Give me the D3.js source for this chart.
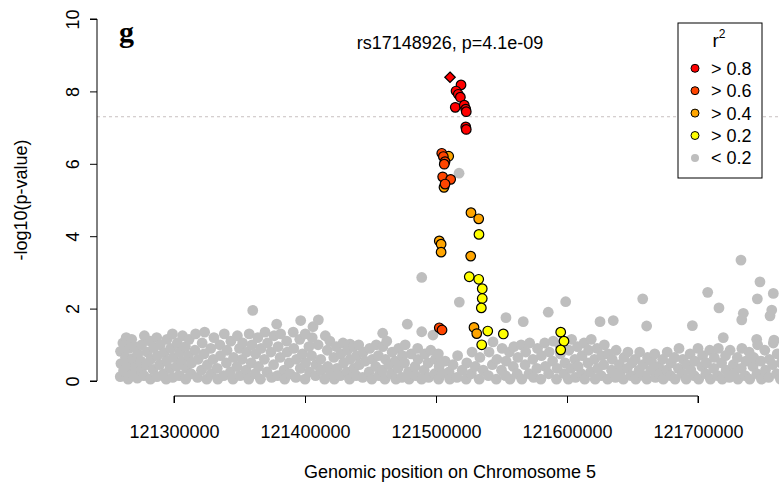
<!DOCTYPE html>
<html>
<head>
<meta charset="utf-8">
<script src="https://cdn.jsdelivr.net/npm/d3@7"></script>
<style>
body { margin: 0; background: #fff; }
text { font-family: "Liberation Sans", Arial, sans-serif; }
</style>
</head>
<body>
<script>
// lead SNP and LD classes
const leadSnp = { name: "rs17148926", pos: 121510700, logp: 8.39, p: "4.1e-09" };
const r2Labels = ["> 0.8", "> 0.6", "> 0.4", "> 0.2", "< 0.2"];
const r2Colors = ["#FF0000", "#FF4500", "#FFA500", "#FFFF00", "#BEBEBE"];
const xTicks = [121300000, 121400000, 121500000, 121600000, 121700000];
const yTicks = [0, 2, 4, 6, 8, 10];
const gwsLine = 7.3;

// [position, -log10(p)] per r2 class
const redPts = [[121519100,8.18],[121515300,8.01],[121517000,7.92],[121518600,7.84],[121514700,7.56],
  [121521600,7.62],[121522700,7.51],[121523100,7.44],[121522700,7.02],[121523100,6.95]];
const orangeRedPts = [[121504400,6.29],[121505600,6.20],[121506900,6.06],[121506300,5.99],[121505100,5.64],
  [121511200,5.57],[121506900,5.44],[121502500,1.47],[121504600,1.41]];
const orangePts = [[121509700,6.21],[121506100,5.35],[121526700,4.65],[121532600,4.48],[121502500,3.87],
  [121503900,3.78],[121503900,3.56],[121526500,3.45],[121529000,1.48],[121531100,1.31]];
const yellowPts = [[121532800,4.05],[121525400,2.88],[121532600,2.81],[121535300,2.55],[121535300,2.28],
  [121534600,2.02],[121539500,1.38],[121551400,1.30],[121534900,1.00],[121595200,1.35],[121597700,1.10],[121595200,0.86]];
const greyPts = [
  [121259000,0.12],[121259500,0.48],[121259200,0.82],[121261000,1.05],[121261500,0.28],[121263000,0.65],[121263500,1.2],
  [121265000,0.05],[121265400,0.4],[121265800,0.9],[121268000,0.2],[121268300,0.62],[121267700,1.15],[121270000,0.95],
  [121270500,0.38],[121272000,0.08],[121272400,0.75],[121275000,0.3],[121275300,1.0],[121274700,0.55],[121277000,0.15],
  [121277400,1.25],[121279000,0.45],[121279500,0.8],[121282000,0.05],[121282300,0.6],[121281800,1.1],[121284000,0.32],
  [121284500,0.92],[121287000,0.12],[121287300,0.7],[121286800,1.2],[121289000,0.45],[121289500,1.0],[121292000,0.2],
  [121292400,0.78],[121294000,0.05],[121294300,0.55],[121294700,1.15],[121297000,0.35],[121297500,0.9],[121299000,0.1],
  [121299300,0.65],[121298800,1.3],[121302000,0.4],[121302500,1.05],[121304000,0.15],[121304400,0.8],[121306000,0.55],
  [121306500,1.25],[121309000,0.05],[121309300,0.35],[121308700,0.95],[121311000,0.7],[121311500,1.15],[121313000,0.2],
  [121313400,0.5],[121316000,0.85],[121316500,1.3],[121318000,0.1],[121318400,0.6],[121321000,0.3],[121321500,1.05],
  [121323000,0.75],[121323400,1.35],[121325000,0.05],[121325500,0.45],[121328000,0.9],[121328400,0.2],[121330000,0.6],
  [121330500,1.2],[121333000,0.35],[121333400,0.05],[121335000,1.0],[121335500,0.7],[121338000,0.15],[121338400,1.3],
  [121340000,0.5],[121340500,0.85],[121343000,0.25],[121343400,1.1],[121345000,0.05],[121345500,0.65],[121348000,0.4],
  [121348400,1.25],[121350000,0.9],[121350500,0.15],[121352000,0.6],[121352400,1.05],[121355000,0.3],[121355500,0.8],
  [121357000,0.05],[121357400,1.3],[121359000,0.5],[121359500,1.0],[121360100,1.95],[121362000,0.2],[121362400,0.75],
  [121364000,1.2],[121364500,0.4],[121366000,0.05],[121366400,0.9],[121369000,0.6],[121369500,1.35],[121371000,0.25],
  [121371400,1.05],[121374000,0.8],[121374500,0.1],[121376000,0.45],[121376400,1.25],[121378400,1.57],[121379000,0.15],
  [121379500,0.95],[121381000,0.65],[121381400,1.3],[121384000,0.3],[121384500,0.05],[121386000,1.1],[121386400,0.8],
  [121388000,0.5],[121388500,0.2],[121391000,1.35],[121391400,0.9],[121393000,0.1],[121393500,0.6],[121396000,1.15],
  [121396400,0.35],[121396700,1.67],[121398000,0.75],[121400000,0.05],[121400500,0.5],[121400200,1.3],[121403000,0.95],
  [121403400,0.25],[121405000,0.7],[121405500,1.2],[121406100,1.5],[121408000,0.15],[121408400,0.45],[121410000,1.0],
  [121410200,1.69],[121412000,0.6],[121412400,0.3],[121415000,0.05],[121415500,1.25],[121417000,0.85],[121417400,0.4],
  [121419000,1.1],[121419500,0.2],[121422000,0.65],[121422400,0.05],[121424000,0.95],[121424500,0.35],[121427000,0.15],
  [121427400,0.75],[121429000,1.05],[121429500,0.5],[121432000,0.25],[121432400,0.85],[121434000,0.05],[121434500,0.6],
  [121434400,1.02],[121437000,0.95],[121437400,0.35],[121439000,0.15],[121439500,0.7],[121441000,1.0],[121441400,0.45],
  [121444000,0.1],[121444500,0.8],[121446000,0.55],[121449000,0.25],[121449400,0.9],[121451000,0.05],[121451500,0.6],
  [121454000,0.4],[121454400,1.0],[121456000,0.7],[121456500,0.15],[121459000,0.3],[121459500,0.95],[121459300,1.32],
  [121461000,0.05],[121461400,0.6],[121462400,1.1],[121464000,0.45],[121466000,0.2],[121466500,0.8],[121469000,0.55],
  [121469400,0.05],[121471000,0.35],[121471500,0.9],[121474000,0.1],[121474400,0.7],[121476000,0.5],[121476500,1.0],
  [121478100,1.57],[121479000,0.25],[121479500,0.05],[121481000,0.75],[121484000,0.4],[121484500,0.15],[121486000,0.9],
  [121486400,0.6],[121489000,0.05],[121489100,1.36],[121489100,2.86],[121491000,0.3],[121491500,0.75],[121494000,0.5],
  [121494400,0.1],[121496000,0.85],[121497700,1.27],[121499000,0.2],[121499500,0.6],[121502000,0.05],[121502400,0.4],
  [121501800,0.75],[121505000,0.2],[121507000,0.55],[121510000,0.25],[121510500,0.05],[121513000,0.45],[121516000,0.1],
  [121516500,0.7],[121517600,5.74],[121517800,2.18],[121520000,0.3],[121523000,0.05],[121523500,0.5],[121527000,0.2],
  [121527500,0.8],[121530000,0.4],[121533000,0.05],[121533500,0.65],[121536000,0.3],[121540000,0.15],[121540500,0.8],
  [121543500,1.08],[121543000,0.45],[121546000,0.05],[121546500,0.6],[121550000,0.3],[121550500,0.9],[121553000,0.15],
  [121553500,0.55],[121553400,1.75],[121556000,0.8],[121556500,0.05],[121559000,0.4],[121559500,0.95],[121562000,0.2],
  [121562500,0.65],[121565000,1.0],[121565500,0.05],[121566600,1.64],[121568000,0.45],[121568500,0.8],[121571000,0.2],
  [121571500,1.05],[121574000,0.6],[121574500,0.1],[121577000,0.35],[121577500,0.9],[121580000,0.05],[121580500,0.7],
  [121583000,1.05],[121583500,0.4],[121585700,1.9],[121586000,0.2],[121586500,0.8],[121589000,0.55],[121589500,1.1],
  [121592000,0.05],[121592500,0.35],[121595000,0.75],[121594500,1.0],[121598000,0.2],[121598500,0.5],[121599000,2.19],
  [121601000,0.05],[121601500,0.85],[121603000,0.35],[121603500,1.15],[121606000,0.6],[121606500,0.1],[121608000,0.95],
  [121608500,0.4],[121611000,0.2],[121611500,0.7],[121613000,1.05],[121613500,0.05],[121616000,0.5],[121616500,0.85],
  [121618000,0.25],[121618500,1.15],[121621000,0.6],[121621500,0.05],[121623000,0.9],[121623500,0.35],[121625200,1.64],
  [121626000,0.15],[121626500,0.7],[121628000,0.45],[121628500,1.0],[121631000,0.05],[121631500,0.75],[121634000,0.3],
  [121634500,0.6],[121635300,1.67],[121637000,0.1],[121637500,0.85],[121640000,0.45],[121640500,0.25],[121643000,0.05],
  [121643500,0.65],[121646000,0.35],[121646500,0.8],[121649000,0.15],[121649500,0.5],[121652000,0.6],[121652500,0.05],
  [121655000,0.3],[121655500,0.8],[121657800,2.27],[121658000,0.45],[121658500,0.15],[121660800,1.52],[121661000,0.05],
  [121661500,0.65],[121664000,0.3],[121664500,0.55],[121667000,0.75],[121667500,0.1],[121670000,0.4],[121670500,0.2],
  [121673000,0.6],[121673500,0.05],[121676000,0.3],[121676500,0.8],[121679000,0.15],[121679500,0.5],[121682000,0.65],
  [121682500,0.05],[121685000,0.35],[121685500,0.9],[121688000,0.2],[121688500,0.6],[121691000,0.05],[121691500,0.45],
  [121694000,0.75],[121694500,0.3],[121695700,1.53],[121697000,0.15],[121697500,0.55],[121700000,0.9],[121700500,0.05],
  [121703000,0.4],[121703500,0.7],[121706000,0.2],[121706500,0.5],[121707400,2.45],[121709000,0.85],[121709500,0.05],
  [121712000,0.35],[121712500,0.65],[121715000,0.15],[121715500,0.9],[121716000,2.02],[121718000,0.5],[121718500,0.05],
  [121719300,1.2],[121721000,0.7],[121721500,0.3],[121724000,0.1],[121724500,0.85],[121727000,0.45],[121727500,0.2],
  [121730000,0.65],[121730500,0.05],[121732800,3.34],[121733000,0.35],[121733500,0.9],[121733400,1.69],[121734600,1.87],
  [121736000,0.15],[121736500,0.55],[121739000,0.8],[121739500,0.05],[121742000,0.4],[121742500,0.65],[121744800,1.15],
  [121745300,2.27],[121745000,0.2],[121745500,1.0],[121747300,2.74],[121748000,0.55],[121748500,0.05],[121751000,0.85],
  [121751500,0.3],[121754000,0.1],[121754500,0.6],[121755000,1.8],[121756300,1.96],[121757000,0.45],[121757500,1.05],
  [121757500,2.42],[121758000,1.13],[121760000,0.2],[121760500,0.75],[121763000,0.05],[121763500,0.5]
];

var width = 779, height = 491;
var svg = d3.select("body").append("svg").attr("width", width).attr("height", height);

var x = d3.scaleLinear().domain([121300000, 121700000]).range([174, 698]);
var y = d3.scaleLinear().domain([0, 10]).range([381, 19]);

// genome-wide significance line
svg.append("line").attr("x1", 97).attr("x2", width)
   .attr("y1", y(gwsLine)).attr("y2", y(gwsLine))
   .attr("stroke", "#C8C0C0").attr("stroke-dasharray", "3,3");

// points, grey first then by increasing r2
svg.append("g").selectAll("circle").data(greyPts).enter().append("circle")
   .attr("cx", d => x(d[0])).attr("cy", d => y(d[1])).attr("r", 5.4)
   .attr("fill", r2Colors[4]);

var groups = [[yellowPts, r2Colors[3]], [orangePts, r2Colors[2]], [orangeRedPts, r2Colors[1]], [redPts, r2Colors[0]]];
groups.forEach(function (g) {
  svg.append("g").selectAll("circle").data(g[0]).enter().append("circle")
     .attr("cx", d => x(d[0])).attr("cy", d => y(d[1])).attr("r", 4.8)
     .attr("fill", g[1]).attr("stroke", "#000").attr("stroke-width", 1.2);
});

// lead SNP as diamond
svg.append("path")
   .attr("d", d3.symbol().type(d3.symbolDiamond2).size(70)())
   .attr("transform", "translate(" + x(leadSnp.pos) + "," + y(leadSnp.logp) + ")")
   .attr("fill", r2Colors[0]).attr("stroke", "#000").attr("stroke-width", 1.2);

// x axis
var xAxis = svg.append("g").attr("transform", "translate(0,396)")
   .call(d3.axisBottom(x).tickValues(xTicks).tickFormat(d3.format("d")).tickSize(7).tickPadding(22));
xAxis.select(".domain").attr("d", "M" + x(xTicks[0]) + ",7V0H" + x(xTicks[xTicks.length - 1]) + "V7");
xAxis.selectAll("text").attr("font-size", 18).attr("font-family", "Liberation Sans, Arial, sans-serif");

// y axis
var yAxis = svg.append("g").attr("transform", "translate(97,0)")
   .call(d3.axisLeft(y).tickValues(yTicks).tickSize(7));
yAxis.select(".domain").attr("d", "M-7," + y(0) + "H0V" + y(10) + "H-7");
yAxis.selectAll("text").remove();
yAxis.selectAll(".tick").append("text")
   .attr("transform", "translate(-18.5,0) rotate(-90)")
   .attr("text-anchor", "middle").attr("fill", "#000").attr("font-size", 18)
   .text(d => d);

// labels
svg.append("text").attr("x", 450).attr("y", 478).attr("text-anchor", "middle")
   .attr("font-size", 18).text("Genomic position on Chromosome 5");
svg.append("text").attr("transform", "translate(27,200) rotate(-90)").attr("text-anchor", "middle")
   .attr("font-size", 18).text("-log10(p-value)");
svg.append("text").attr("x", 450).attr("y", 48.5).attr("text-anchor", "middle")
   .attr("font-size", 18).text(leadSnp.name + ", p=" + leadSnp.p);
svg.append("text").attr("x", 119).attr("y", 42).attr("font-size", 30).attr("font-weight", "bold")
   .style("font-family", "Liberation Serif, Times New Roman, serif").text("g");

// legend
var legend = svg.append("g").attr("transform", "translate(678,23)");
legend.append("rect").attr("width", 84).attr("height", 155).attr("fill", "#fff").attr("stroke", "#000");
var rt = legend.append("text").attr("x", 41).attr("y", 24).attr("text-anchor", "middle").attr("font-size", 19);
rt.append("tspan").text("r");
rt.append("tspan").attr("font-size", 12).attr("dy", -9).text("2");
var items = legend.selectAll(".item").data(r2Labels).enter().append("g")
   .attr("transform", (d, i) => "translate(0," + (45.3 + i * 22.4) + ")");
items.append("circle").attr("cx", 17).attr("cy", 0).attr("r", 4)
   .attr("fill", (d, i) => r2Colors[i]).attr("stroke", (d, i) => i < 4 ? "#000" : "none");
items.append("text").attr("x", 33).attr("y", 6.5).attr("font-size", 18).text(d => d);
</script>
</body>
</html>
